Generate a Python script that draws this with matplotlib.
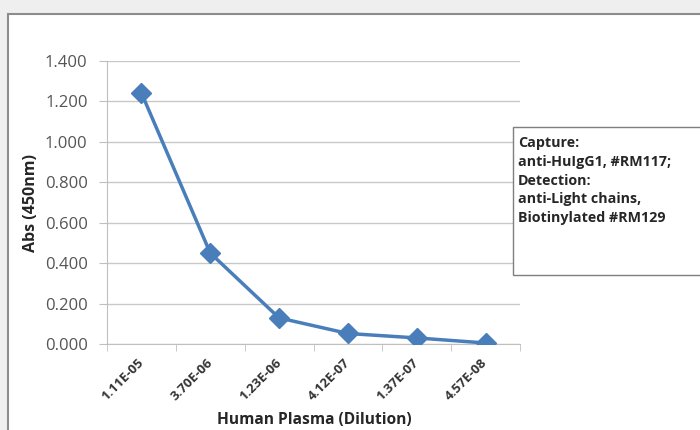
import matplotlib
matplotlib.use('Agg')
import matplotlib.pyplot as plt
from matplotlib.patches import Rectangle

plt.rcParams['font.family'] = ['Open Sans', 'DejaVu Sans']

dilutions = ['1.11E-05', '3.70E-06', '1.23E-06', '4.12E-07', '1.37E-07', '4.57E-08']
absorbance = [1.242, 0.450, 0.129, 0.052, 0.030, 0.005]
y_ticks = [0.0, 0.2, 0.4, 0.6, 0.8, 1.0, 1.2, 1.4]
legend_lines = ['Capture:', 'anti-HuIgG1, #RM117;', 'Detection:',
                'anti-Light chains,', 'Biotinylated #RM129']

fig = plt.figure(figsize=(7, 4.3), dpi=100)
fig.patch.set_facecolor('#efefef')

# white chart area with grey frame (runs off the right/bottom edge)
fig.patches.append(Rectangle((8 / 700, -0.05), 1.1, 1 - 14 / 430 + 0.05,
                             transform=fig.transFigure, facecolor='white',
                             edgecolor='#8c8c8c', lw=1.5, zorder=-1))

ax = fig.add_axes([107 / 700, 1 - 344 / 430, 413 / 700, 283 / 430])
ax.set_zorder(1)
ax.set_facecolor('white')

x = list(range(len(dilutions)))
ax.plot(x, absorbance, color='#4a7ebb', lw=2.5, marker='D', markersize=10,
        markerfacecolor='#4a7ebb', markeredgecolor='#4a7ebb', zorder=3)

ax.set_xlim(-0.5, len(dilutions) - 0.5)
ax.set_ylim(0, 1.4)
ax.set_yticks(y_ticks)
ax.set_yticklabels(['%.3f' % v for v in y_ticks], fontsize=12, color='#555555')
ax.yaxis.grid(True, color='#c8c8c8', lw=1)
ax.set_axisbelow(True)

ax.set_xticks(x)
ax.set_xticklabels(dilutions, rotation=45, ha='right', va='center',
                   rotation_mode='anchor', fontsize=9.5, fontweight='bold',
                   color='#333333')
ax.set_xticks([i - 0.5 for i in range(len(dilutions) + 1)], minor=True)
ax.tick_params(axis='x', which='major', length=0, pad=12)
ax.tick_params(axis='x', which='minor', length=5, color='#bfbfbf')
ax.tick_params(axis='y', length=6, color='#bfbfbf', pad=8)

for s in ['top', 'right']:
    ax.spines[s].set_visible(False)
ax.spines['left'].set_color('#bfbfbf')
ax.spines['bottom'].set_color('#bfbfbf')

ax.set_ylabel('Abs (450nm)', fontsize=11.5, fontweight='bold', color='#262626', labelpad=4)
fig.text(314 / 700, 1 - 420 / 430, 'Human Plasma (Dilution)', ha='center', va='center',
         fontsize=11.2, fontweight='bold', color='#262626')

# legend box
fig.patches.append(Rectangle((513 / 700, 1 - 275 / 430), 0.3, 148 / 430,
                             transform=fig.transFigure, facecolor='white',
                             edgecolor='#7f7f7f', lw=1, zorder=2))
for i, line in enumerate(legend_lines):
    fig.text(518 / 700, 1 - (143 + 18.8 * i) / 430, line, ha='left', va='center',
             fontsize=10.3, fontweight='bold', color='#262626', zorder=3)

fig.savefig('out.png', dpi=100, facecolor=fig.get_facecolor())
